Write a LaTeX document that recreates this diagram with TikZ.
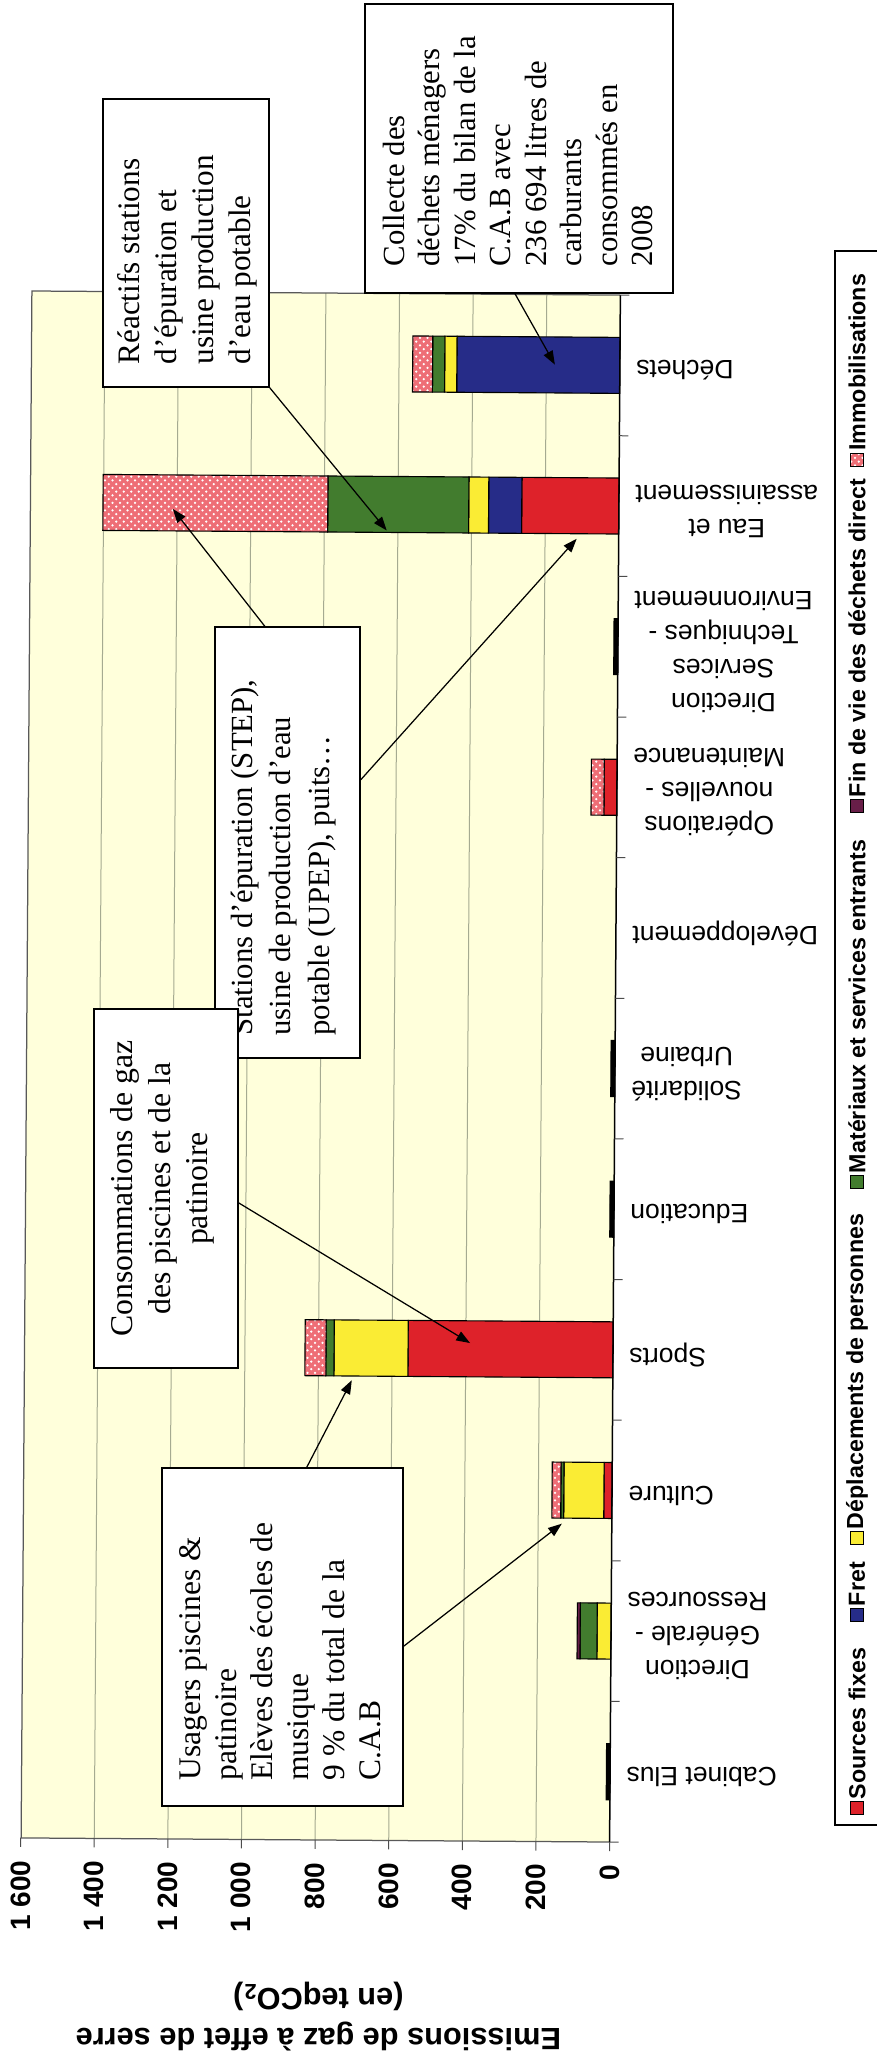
\documentclass[tikz,border=0pt]{standalone}
\usepackage{fontspec}
\setmainfont{Liberation Serif}
\setsansfont{Liberation Sans}
\usetikzlibrary{arrows.meta,calc,patterns}

\definecolor{srcfix}{RGB}{222,34,42}
\definecolor{fret}{RGB}{38,44,136}
\definecolor{depl}{RGB}{250,236,52}
\definecolor{mat}{RGB}{66,124,46}
\definecolor{finvie}{RGB}{104,30,72}
\definecolor{immo}{RGB}{238,110,118}
\definecolor{plotbg}{RGB}{255,255,219}
\definecolor{gridc}{RGB}{165,170,145}

% one stacked piece: row, from value, to value, style
\newcommand{\barpart}[4]{\draw[segment,#4] ({615-#2*0.368},{335.3+140.64*#1}) rectangle ({615-#3*0.368},{391.3+140.64*#1});}

\begin{document}
\begin{tikzpicture}[x=0.4pt,y=-0.4pt,
  segment/.style={draw=black,line width=0.45pt},
  srcbar/.style={fill=srcfix}, fretbar/.style={fill=fret}, deplbar/.style={fill=depl},
  matbar/.style={fill=mat}, finbar/.style={fill=finvie}, tinybar/.style={fill=black},
  immobar/.style={preaction={fill=immo},pattern=crosshatch dots,pattern color=white},
  gridline/.style={draw=gridc,line width=0.4pt},
  catlabel/.style={rotate=180,anchor=east,align=center,inner sep=0pt,font=\sffamily\fontsize{10.6}{13.6}\selectfont},
  ticklabel/.style={rotate=90,anchor=east,inner sep=0pt,font=\sffamily\bfseries\fontsize{11.2}{13}\selectfont},
  notebox/.style={draw=black,line width=0.6pt,fill=white,inner sep=0pt},
  notetext/.style={rotate=90,inner sep=0pt,align=left},
  legmark/.style={segment,minimum size=5.2pt,inner sep=0pt},
  legtext/.style={rotate=90,anchor=west,inner sep=0pt,font=\sffamily\bfseries\fontsize{9.3}{11}\selectfont},
  connector/.style={-{Triangle[length=5.5pt,width=4pt]},line width=0.5pt}]

\useasboundingbox (0,0) rectangle (876,2063);

\begin{scope}[rotate around={-0.4:(320,1066)}]
\fill[plotbg] (26.5,293) rectangle (615,1840);
\foreach \k in {1,...,7}
  \draw[gridline] ({615-73.625*\k},293) -- ({615-73.625*\k},1840);
\draw[gray!70!black,line width=0.5pt] (615,293) -- (26.5,293) -- (26.5,1840) -- (615,1840);

\barpart{0}{0}{443}{fretbar}
\barpart{0}{443}{476}{deplbar}
\barpart{0}{476}{509}{matbar}
\barpart{0}{509}{563}{immobar}
\barpart{1}{0}{264}{srcbar}
\barpart{1}{264}{354}{fretbar}
\barpart{1}{354}{408}{deplbar}
\barpart{1}{408}{791}{matbar}
\barpart{1}{791}{1402}{immobar}
\barpart{2}{0}{11}{tinybar}
\barpart{3}{0}{35}{srcbar}
\barpart{3}{35}{70}{immobar}
\barpart{5}{0}{11}{tinybar}
\barpart{6}{0}{11}{tinybar}
\barpart{7}{0}{557}{srcbar}
\barpart{7}{557}{758}{deplbar}
\barpart{7}{758}{780}{matbar}
\barpart{7}{780}{837}{immobar}
\barpart{8}{0}{22}{srcbar}
\barpart{8}{22}{131}{deplbar}
\barpart{8}{131}{139}{matbar}
\barpart{8}{139}{163}{immobar}
\barpart{9}{0}{38}{deplbar}
\barpart{9}{38}{84}{matbar}
\barpart{9}{84}{92}{finbar}
\barpart{10}{0}{10}{tinybar}

\draw[black,line width=0.6pt] (615,293) -- (615,1840);
\foreach \k in {0,...,11}
  \draw[gray!60!black,line width=0.4pt] (615,{293+140.64*\k}) -- (624,{293+140.64*\k});
\foreach \k in {0,...,8}
  \draw[gray!60!black,line width=0.4pt] ({615-73.625*\k},1840) -- ({615-73.625*\k},1849);

\foreach \k/\lab in {0/0,1/200,2/400,3/600,4/800,5/{1 000},6/{1 200},7/{1 400},8/{1 600}}
  \node[ticklabel] (tick\k) at ({615-73.625*\k},1862) {\lab};

\foreach \k/\lab in {0/Déchets,1/{Eau et\\assainissement},2/{Direction\\Services\\Techniques -\\Environnement},
    3/{Opérations\\nouvelles -\\Maintenance},4/Développement,5/{Solidarité\\Urbaine},6/Education,
    7/Sports,8/Culture,9/{Direction\\Générale -\\Ressources},10/Cabinet Elus}
  \node[catlabel] (cat\k) at (631,{368.3+140.64*\k}) {\lab};

\node[rotate=180,align=center,inner sep=0pt,font=\sffamily\bfseries\fontsize{12.3}{16}\selectfont]
  (ytitle) at (325,2017) {Emissions de gaz à effet de serre\\(en teqCO\textsubscript{2})};

\coordinate (tDechets) at (550,363);
\coordinate (tEauMat) at (383,530);
\coordinate (tEauImmo) at (169,510);
\coordinate (tEauSrc) at (573,537);
\coordinate (tSportsSrc) at (472,1342);
\coordinate (tSportsDepl) at (354,1380);
\coordinate (tCulture) at (565,1522);
\end{scope}

\node[notebox,minimum width=123.2pt,minimum height=115.6pt] (collecte) at (519,148.5) {};
\node[notetext,anchor=west,font=\fontsize{12.3}{14.2}\selectfont] (collecteText) at (518,267)
  {Collecte des\\déchets ménagers\\17\% du bilan de la\\C.A.B avec\\236 694 litres de\\carburants\\consommés en\\2008};

\node[notebox,minimum width=66.4pt,minimum height=115.2pt] (reactifs) at (186,243) {};
\node[notetext,anchor=west,font=\fontsize{12.5}{14.8}\selectfont] (reactifsText) at (187.5,365)
  {Réactifs stations\\d’épuration et\\usine production\\d’eau potable};

\node[notebox,minimum width=58pt,minimum height=172.4pt] (stations) at (287.5,842.5) {};
\node[notetext,anchor=west,font=\fontsize{12.3}{15.4}\selectfont] (stationsText) at (283.5,1036)
  {Stations d’épuration (STEP),\\usine de production d’eau\\potable (UPEP), puits…};

\node[notebox,minimum width=57.6pt,minimum height=143.6pt] (gaz) at (166,1188.5) {};
\node[notetext,align=center,font=\fontsize{12.7}{15}\selectfont] (gazText) at (162.5,1188.5)
  {Consommations de gaz\\des piscines et de la\\patinoire};

\node[notebox,minimum width=96.4pt,minimum height=135.2pt] (usagers) at (282.5,1637) {};
\node[notetext,anchor=west,font=\fontsize{12.6}{14.4}\selectfont] (usagersText) at (280,1781)
  {Usagers piscines \&\\patinoire\\Elèves des écoles de\\musique\\9 \% du total de la\\C.A.B};

\draw[connector] ($(collecte.south west)!0.487!(collecte.south east)$) -- (tDechets);
\draw[connector] (reactifs.south east) -- (tEauMat);
\draw[connector] ($(stations.north west)!0.345!(stations.north east)$) -- (tEauImmo);
\draw[connector] ($(stations.north east)!0.355!(stations.south east)$) -- (tEauSrc);
\draw[connector] ($(gaz.north east)!0.54!(gaz.south east)$) -- (tSportsSrc);
\draw[connector] ($(usagers.north west)!0.6!(usagers.north east)$) -- (tSportsDepl);
\draw[connector] ($(usagers.north east)!0.527!(usagers.south east)$) -- (tCulture);

\draw[black,line width=0.6pt] (880,251) -- (835,251) -- (835,1825) -- (880,1825);
\node[legmark,srcbar] (mSrc) at (857,1808) {};
\node[legtext] (lSrc) at (857,1799.5) {Sources fixes};
\node[legmark,fretbar] (mFret) at (857,1615) {};
\node[legtext] (lFret) at (857,1606.5) {Fret};
\node[legmark,deplbar] (mDepl) at (857,1538) {};
\node[legtext] (lDepl) at (857,1529.5) {Déplacements de personnes};
\node[legmark,matbar] (mMat) at (857,1182) {};
\node[legtext] (lMat) at (857,1173.5) {Matériaux et services entrants};
\node[legmark,finbar] (mFin) at (857,806) {};
\node[legtext] (lFin) at (857,797.5) {Fin de vie des déchets direct};
\node[legmark,immobar] (mImmo) at (857,460) {};
\node[legtext] (lImmo) at (857,451.5) {Immobilisations};
\end{tikzpicture}
\end{document}
